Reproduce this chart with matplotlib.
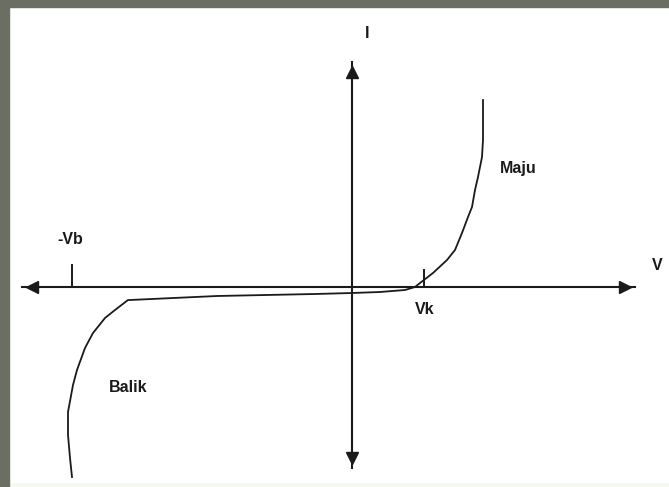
import numpy as np
import matplotlib.pyplot as plt
from matplotlib.patches import Rectangle

# ----------------------------------------------------------
# data (V, I in arbitrary chart units)
# ----------------------------------------------------------
curve_v = [-28.0, -28.2, -28.4, -28.4, -27.9, -27.5, -26.7, -25.9, -24.7, -23.7,
           -22.4, -22.2, -13.5, -3.7, 0.0, 2.8, 5.3, 6.3, 6.8, 8.1, 9.5, 10.3,
           11.0, 11.6, 12.0, 12.3, 12.6, 13.0, 13.1, 13.1]
curve_i = [-19.0, -17.1, -14.8, -12.5, -9.8, -8.3, -6.1, -4.6, -3.1, -2.3,
           -1.3, -1.3, -0.9, -0.7, -0.6, -0.5, -0.3, 0.0, 0.4, 1.4, 2.7, 3.7,
           5.4, 7.0, 8.0, 9.7, 11.0, 13.0, 14.7, 18.7]

v_axis = [-33.0, 28.3]
i_axis = [-18.1, 22.5]

vb = -28.0
vk = 7.2

labels = ["I", "V", "-Vb", "Vk", "Maju", "Balik"]
label_v = [1.5, 30.5, -28.2, 7.3, 16.6, -22.4]
label_i = [25.4, 2.2, 4.7, -2.3, 11.9, -10.0]

# ----------------------------------------------------------
# figure
# ----------------------------------------------------------
W, H = 669, 487
fig = plt.figure(figsize=(W / 100, H / 100), dpi=100)
fig.patch.set_facecolor("#f6f8f2")

# frame on top and left
fig.patches.append(Rectangle((0, 1 - 7 / H), 1, 7 / H, transform=fig.transFigure,
                             color="#6b6e62", zorder=0))
fig.patches.append(Rectangle((0, 0), 9 / W, 1, transform=fig.transFigure,
                             color="#6b6e62", zorder=0))

ax = fig.add_axes([9 / W, 4 / H, 660 / W, 476 / H])
ax.set_facecolor("white")
ax.set_xlim(-34.3, 31.7)
ax.set_ylim(-19.6, 28.0)
for s in ax.spines.values():
    s.set_visible(False)
ax.set_xticks([])
ax.set_yticks([])

col = "#1a1a1a"

# axes lines
ax.plot(v_axis, [0, 0], color=col, lw=1.5)
ax.plot([0, 0], i_axis, color=col, lw=1.5)

# arrow heads
ax.plot([v_axis[0] + 1.0], [0], marker="<", color=col, ms=9)
ax.plot([v_axis[1] - 1.0], [0], marker=">", color=col, ms=9)
ax.plot([0], [i_axis[1] - 1.0], marker="^", color=col, ms=9)
ax.plot([0], [i_axis[0] + 1.0], marker="v", color=col, ms=9)

# ticks at -Vb and Vk
ax.plot([vb, vb], [0, 2.2], color=col, lw=1.4)
ax.plot([vk, vk], [0, 1.7], color=col, lw=1.4)

# diode curve
ax.plot(curve_v, curve_i, color=col, lw=1.3)

for t, x, y in zip(labels, label_v, label_i):
    ax.text(x, y, t, ha="center", va="center", fontsize=11.5, fontweight="bold",
            family="Liberation Sans", color=col)

fig.savefig("out.png", dpi=100, facecolor=fig.get_facecolor())
